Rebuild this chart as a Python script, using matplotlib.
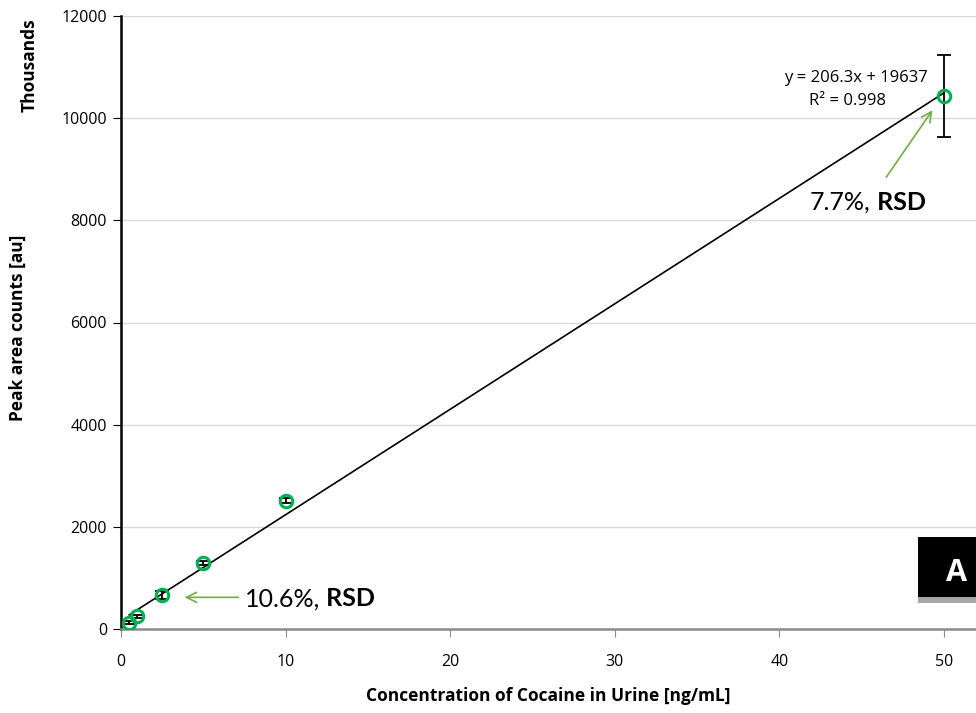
import numpy as np
import matplotlib
matplotlib.use("Agg")
import matplotlib.pyplot as plt
from matplotlib.patches import Rectangle

conc = [0.5, 1, 2.5, 5, 10, 50]
peak = [123, 245, 665, 1298, 2512, 10435]
err = [25, 30, 70, 40, 50, 800]
x_ticks = [0, 10, 20, 30, 40, 50]
y_ticks = [0, 2000, 4000, 6000, 8000, 10000, 12000]

plt.rcParams['font.family'] = ['Open Sans', 'DejaVu Sans']

W, H = 976, 713
fig = plt.figure(figsize=(W / 100, H / 100), dpi=100)
ax = fig.add_axes([121 / W, 1 - 629 / H, (976 - 121) / W, (629 - 16) / H])

ax.set_xlim(0, 51.95)
ax.set_ylim(0, 12000)

ax.yaxis.grid(True, color='#d9d9d9', lw=1)
ax.set_axisbelow(True)
for s in ['top', 'right']:
    ax.spines[s].set_visible(False)
ax.spines['left'].set_color('black')
ax.spines['left'].set_linewidth(1.8)
ax.spines['bottom'].set_color('#8c8c8c')
ax.spines['bottom'].set_linewidth(1.8)

ax.set_xticks(x_ticks)
ax.set_yticks(y_ticks)
ax.tick_params(axis='x', direction='out', length=6, color='#8c8c8c', labelsize=11.5, pad=12)
ax.tick_params(axis='y', direction='out', length=6, color='black', labelsize=11.5, pad=4)

# fit line
coef = np.polyfit(conc, peak, 1)
xl = np.array([conc[0], conc[-1]])
ax.plot(xl, np.polyval(coef, xl), color='black', lw=1.2, zorder=3)

ax.errorbar(conc, peak, yerr=err, fmt='none', ecolor='black', elinewidth=1.3,
            capsize=5, capthick=1.3, zorder=4)
ax.plot(conc, peak, 'o', ms=9, mfc='none', mec='#00b050', mew=2.2, zorder=5)

ax.set_xlabel('Concentration of Cocaine in Urine [ng/mL]', fontsize=12.5, fontweight='bold', labelpad=12)
fig.text(18 / W, 1 - 328 / H, 'Peak area counts [au]', rotation=90, fontsize=12.5,
         fontweight='bold', ha='center', va='center')
fig.text(30 / W, 1 - 65 / H, 'Thousands', rotation=90, fontsize=12.5,
         fontweight='bold', ha='center', va='center')

ax.text(49.0, 10780, 'y = 206.3x + 19637', fontsize=12, ha='right', va='center')
ax.text(46.5, 10330, 'R² = 0.998', fontsize=12, ha='right', va='center')

ax.annotate('', xy=(3.7, 620), xytext=(7.3, 620),
            arrowprops=dict(arrowstyle='->', color='#70ad47', lw=1.2, mutation_scale=18))
t1 = fig.text(245 / W, 1 - 599 / H, '10.6%,', fontsize=18, ha='left', va='center', family='Lato')
ax.annotate(' RSD', xy=(1, 0.5), xycoords=t1, fontsize=18, ha='left', va='center',
            fontweight='bold', family='Lato')

ax.annotate('', xy=(49.4, 10200), xytext=(46.4, 8800),
            arrowprops=dict(arrowstyle='->', color='#70ad47', lw=1.2, mutation_scale=18))
t2 = fig.text(810 / W, 1 - 202 / H, '7.7%,', fontsize=18, ha='left', va='center', family='Lato')
ax.annotate(' RSD', xy=(1, 0.5), xycoords=t2, fontsize=18, ha='left', va='center',
            fontweight='bold', family='Lato')

# "A" label box
fig.patches.append(Rectangle((918 / W, 1 - 603 / H), 58 / W, 6 / H, transform=fig.transFigure,
                             facecolor='#a6a6a6', edgecolor='none', zorder=10))
fig.patches.append(Rectangle((918 / W, 1 - 597 / H), 58 / W, 60 / H, transform=fig.transFigure,
                             facecolor='black', edgecolor='none', zorder=11))
fig.text(957 / W, 1 - 573 / H, 'A', color='white', fontsize=22, fontweight='bold',
         ha='center', va='center', zorder=12)

fig.savefig('out.png', dpi=100)
